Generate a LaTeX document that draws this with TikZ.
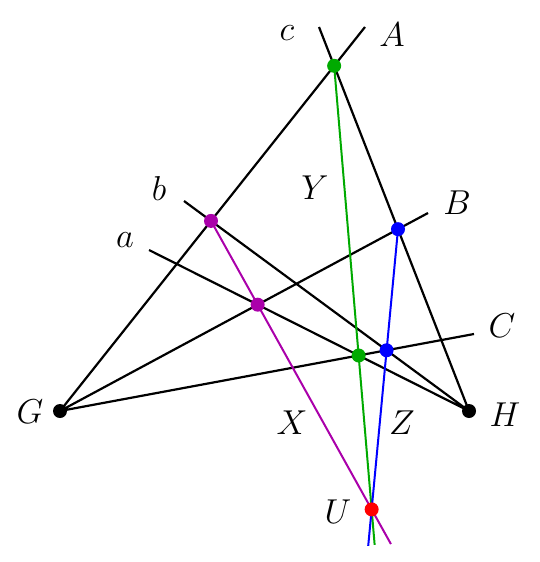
\documentclass[tikz,border=0pt]{standalone}
\usepackage{amsmath,amssymb}
\usetikzlibrary{calc}
\definecolor{ptgreen}{RGB}{0,170,0}
\definecolor{ptpurple}{RGB}{170,0,170}
\definecolor{ptblue}{RGB}{0,0,255}
\definecolor{ptred}{RGB}{255,0,0}

\begin{document}
\begin{tikzpicture}[x=0.5pt, y=-0.5pt,
    dot/.style = {circle, fill, inner sep=0pt, minimum size=7pt},
    lbl/.style = {font=\LARGE},
    base/.style = {line width=1.1pt},
    axis/.style = {line width=1pt}]
    \useasboundingbox (0,0) rectangle (540,562);

    % the two centres and the far ends of their lines
    \coordinate (G) at (60,411);
    \coordinate (H) at (469,411);
    \coordinate (eA) at (365,27);
    \coordinate (eB) at (428,213);
    \coordinate (eC) at (474,334);
    \coordinate (ea) at (149,250);
    \coordinate (eb) at (184,201);
    \coordinate (ec) at (319,27);

    % crossing points
    \coordinate (pA) at (intersection of G--eA and H--eb);
    \coordinate (pB) at (intersection of G--eB and H--ea);
    \coordinate (gA) at (intersection of G--eA and H--ec);
    \coordinate (gC) at (intersection of G--eC and H--ea);
    \coordinate (bB) at (intersection of G--eB and H--ec);
    \coordinate (bC) at (intersection of G--eC and H--eb);
    \coordinate (U) at (intersection of pA--pB and gA--gC);
    \coordinate (uP) at ($(pA)!1.12!(U)$);
    \coordinate (uG) at ($(gA)!1.08!(U)$);
    \coordinate (uB) at ($(bB)!1.13!(U)$);

    \draw [base] (G) -- (eA) (G) -- (eB) (G) -- (eC);
    \draw [base] (H) -- (ea) (H) -- (eb) (H) -- (ec);

    \draw [axis, ptpurple] (pA) -- (uP);
    \draw [axis, ptgreen] (gA) -- (uG);
    \draw [axis, ptblue] (bB) -- (uB);

    \node (nG) [dot] at (G) {};
    \node (nH) [dot] at (H) {};
    \node (npA) [dot, ptpurple] at (pA) {};
    \node (npB) [dot, ptpurple] at (pB) {};
    \node (ngA) [dot, ptgreen] at (gA) {};
    \node (ngC) [dot, ptgreen] at (gC) {};
    \node (nbB) [dot, ptblue] at (bB) {};
    \node (nbC) [dot, ptblue] at (bC) {};
    \node (nU) [dot, ptred] at (U) {};

    \node (lA) [lbl] at (392,35) {$A$};
    \node (lB) [lbl] at (457,203) {$B$};
    \node (lC) [lbl] at (502,326) {$C$};
    \node (la) [lbl] at (125,240) {$a$};
    \node (lb) [lbl] at (159,188) {$b$};
    \node (lc) [lbl] at (287,33) {$c$};
    \node (lG) [lbl] at (30,412) {$G$};
    \node (lH) [lbl] at (505,415) {$H$};
    \node (lU) [lbl] at (338,512) {$U$};
    \node (lX) [lbl] at (292,423) {$X$};
    \node (lY) [lbl] at (315,188) {$Y$};
    \node (lZ) [lbl] at (402,423) {$Z$};
\end{tikzpicture}
\end{document}
